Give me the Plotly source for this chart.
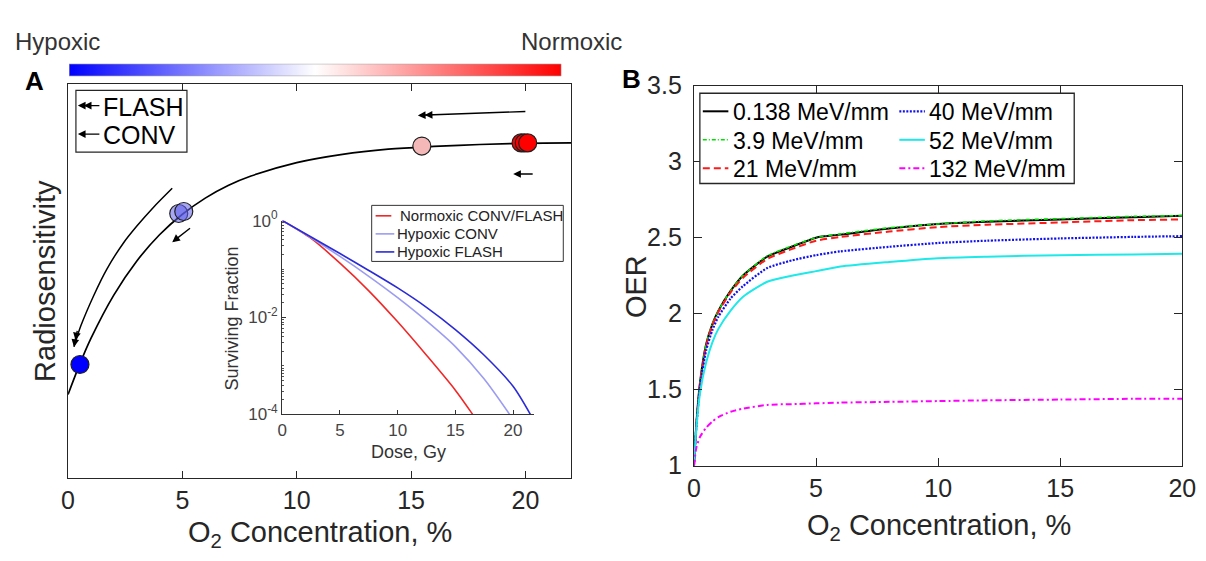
import plotly.graph_objects as go

W, H = 1206, 561
FONT = "Liberation Sans, Arial, Helvetica, sans-serif"
AX = "#262626"

# ---------------- data ----------------
# Panel A : radiosensitivity vs O2 concentration (arbitrary units)
o2_a = [0, 0.5, 1, 2, 3, 4, 5, 6, 7, 8, 10, 12, 14, 16, 18, 20, 22]
radiosens = [0.212, 0.287, 0.354, 0.464, 0.550, 0.617, 0.669, 0.710, 0.742,
             0.766, 0.800, 0.821, 0.834, 0.841, 0.846, 0.849, 0.850]
# FLASH oxygen-depletion path (arc left of the curve)
flash_o2 = [4.555, 3.739, 3.008, 2.407, 1.697, 1.139, 0.559, 0.258]
flash_rs = [0.735, 0.687, 0.639, 0.595, 0.530, 0.465, 0.386, 0.333]
# state markers
pt_o2 = [0.52, 4.84, 5.06, 15.47, 19.81, 19.95, 20.10]
pt_rs = [0.288, 0.671, 0.676, 0.842, 0.850, 0.850, 0.850]
pt_colors = ["#0000FF", "rgba(95,95,235,0.55)", "rgba(95,95,235,0.55)",
             "#F5B8B8", "#FF0000", "#FF0000", "#FF0000"]

# Inset : surviving fraction vs dose
dose_norm = [0, 2.5, 5, 7.5, 10, 12.5, 15, 16.5]
sf_norm = [1, 0.427, 0.132, 0.0355, 0.00813, 0.00166, 0.000316, 0.0001]
dose_hconv = [0, 2.5, 5, 7.5, 10, 12.5, 15, 17.5, 19.7]
sf_hconv = [1, 0.442, 0.182, 0.0708, 0.0257, 0.00851, 0.00251, 0.000537, 0.0001]
dose_hflash = [0, 2.5, 5, 7.5, 10, 12.5, 15, 17.5, 20, 21.5]
sf_hflash = [1, 0.457, 0.209, 0.0933, 0.0407, 0.0162, 0.00562, 0.00166, 0.00038, 0.0001]
inset_names = ["Normoxic CONV/FLASH", "Hypoxic CONV", "Hypoxic FLASH"]

# Panel B : OER vs O2 concentration
o2_b = [0, 0.1, 0.25, 0.5, 0.75, 1, 1.5, 2, 3, 4, 5, 6, 8, 10, 12, 15, 18, 20]
oer_0138 = [1.0, 1.28, 1.55, 1.80, 1.93, 2.02, 2.15, 2.25, 2.375, 2.44, 2.50, 2.52,
            2.56, 2.59, 2.605, 2.62, 2.635, 2.645]
oer_39 = [1.0, 1.28, 1.55, 1.80, 1.93, 2.02, 2.15, 2.25, 2.38, 2.445, 2.50, 2.525,
          2.565, 2.59, 2.61, 2.625, 2.64, 2.645]
oer_21 = [1.0, 1.27, 1.54, 1.79, 1.92, 2.01, 2.14, 2.235, 2.36, 2.425, 2.48, 2.505,
          2.54, 2.57, 2.585, 2.60, 2.615, 2.62]
oer_40 = [1.0, 1.26, 1.52, 1.76, 1.89, 1.98, 2.10, 2.18, 2.30, 2.35, 2.385, 2.41,
          2.44, 2.465, 2.48, 2.495, 2.505, 2.51]
oer_52 = [1.0, 1.25, 1.48, 1.68, 1.81, 1.90, 2.02, 2.11, 2.21, 2.25, 2.28, 2.31,
          2.34, 2.365, 2.375, 2.385, 2.39, 2.395]
oer_132 = [1.0, 1.12, 1.19, 1.25, 1.29, 1.32, 1.355, 1.375, 1.40, 1.405, 1.41, 1.415,
           1.42, 1.425, 1.43, 1.435, 1.44, 1.44]
let_labels = ["0.138 MeV/mm", "3.9 MeV/mm", "21 MeV/mm",
              "40 MeV/mm", "52 MeV/mm", "132 MeV/mm"]

# colour bar (hypoxic -> normoxic)
grad_pos = [0, 0.5, 1]
grad_col = ["#0000FF", "#FFFFFF", "#FF0000"]

x_ticks = [0, 5, 10, 15, 20]
b_yticks = [1, 1.5, 2, 2.5, 3, 3.5]
b_yticktext = ["1", "1.5", "2", "2.5", "3", "3.5"]
inset_yticks = [1e-4, 1e-2, 1]
inset_yticktext = ["10<sup>-4</sup>", "10<sup>-2</sup>", "10<sup>0</sup>"]


def fx(p):
    return p / W


def fy(p):
    return 1 - p / H


fig = go.Figure()

# ---------- panel A ----------
fig.add_trace(go.Scatter(x=o2_a, y=radiosens, mode="lines",
                         line=dict(color="black", width=1.7, shape="spline"),
                         xaxis="x", yaxis="y", showlegend=False, hoverinfo="skip"))
fig.add_trace(go.Scatter(x=flash_o2, y=flash_rs, mode="lines",
                         line=dict(color="black", width=1.5, shape="spline", smoothing=0.8),
                         xaxis="x", yaxis="y", showlegend=False, hoverinfo="skip"))
fig.add_trace(go.Scatter(x=pt_o2, y=pt_rs, mode="markers",
                         marker=dict(size=18, color=pt_colors,
                                     line=dict(color="#202020", width=1.2)),
                         xaxis="x", yaxis="y", showlegend=False, hoverinfo="skip"))

# ---------- inset ----------
inset_data = [(dose_norm, sf_norm, "#F02828", 1.6),
              (dose_hconv, sf_hconv, "#9C9CF2", 1.6),
              (dose_hflash, sf_hflash, "#2B2BD8", 1.6)]
for (dx, sy, col, lw), nm in zip(inset_data, inset_names):
    fig.add_trace(go.Scatter(x=dx, y=sy, mode="lines", name=nm,
                             line=dict(color=col, width=lw, shape="spline", smoothing=0.8),
                             xaxis="x3", yaxis="y3", showlegend=False,
                             hoverinfo="skip"))

# ---------- panel B ----------
b_styles = [("#000000", "solid", 2.0),
            ("#00E000", "4px,2px,1px,2px", 1.6),
            ("#FF1A1A", "7px,4px", 2.0),
            ("#1010F0", "2px,1.5px", 2.2),
            ("#1EE8E8", "solid", 2.0),
            ("#FF00FF", "6px,3px,2px,3px", 2.0)]
b_series = [oer_0138, oer_39, oer_21, oer_40, oer_52, oer_132]
for ys, (col, dash, lw), nm in zip(b_series, b_styles, let_labels):
    fig.add_trace(go.Scatter(x=o2_b, y=ys, mode="lines", name=nm,
                             line=dict(color=col, width=lw, dash=dash, shape="spline",
                                       smoothing=0.6),
                             xaxis="x2", yaxis="y2", showlegend=False,
                             hoverinfo="skip"))

# ---------- colour bar ----------
fig.add_trace(go.Scatter(x=[0, 1, 1, 0, 0], y=[0, 0, 1, 1, 0], mode="lines",
                         fill="toself",
                         fillgradient=dict(type="horizontal",
                                           colorscale=[[p, c] for p, c in zip(grad_pos, grad_col)]),
                         line=dict(color="#A0A0A0", width=1),
                         xaxis="x4", yaxis="y4", showlegend=False, hoverinfo="skip"))

axis_common = dict(showgrid=False, zeroline=False, showline=True, linecolor=AX,
                   linewidth=1.3, tickcolor=AX, tickwidth=1.2,
                   tickfont=dict(family=FONT, size=25, color=AX))

fig.update_layout(
    width=W, height=H, autosize=False,
    margin=dict(l=0, r=0, t=0, b=0),
    paper_bgcolor="white", plot_bgcolor="white",
    font=dict(family=FONT, color=AX),
    xaxis=dict(domain=[fx(54), fx(566)], range=[0, 22], anchor="y",
               tickvals=x_ticks, ticks="inside", ticklen=7, mirror="ticks",
               **axis_common),
    yaxis=dict(domain=[fy(480), fy(65)], range=[0, 1], anchor="x",
               showticklabels=False, ticks="", mirror=True,
               **{k: v for k, v in axis_common.items() if k != "tickfont"}),
    xaxis2=dict(domain=[fx(691), fx(1188)], range=[0, 20], anchor="y2",
                tickvals=x_ticks, ticks="inside", ticklen=8, mirror="ticks",
                **axis_common),
    yaxis2=dict(domain=[fy(467), fy(67)], range=[1, 3.5], anchor="x2",
                tickvals=b_yticks, ticktext=b_yticktext, ticks="inside",
                ticklen=8, mirror="ticks", ticklabelstandoff=6, **axis_common),
    xaxis3=dict(domain=[fx(272), fx(528)], range=[0, 21.8], anchor="y3",
                tickvals=x_ticks, ticks="inside", ticklen=4, showgrid=False,
                zeroline=False, showline=True, linecolor="#333333", linewidth=1.3,
                tickcolor="#333333", tickfont=dict(family=FONT, size=17, color="#444444")),
    yaxis3=dict(domain=[fy(413), fy(209)], type="log", range=[-4, 0], anchor="x3",
                tickvals=inset_yticks, ticktext=inset_yticktext, ticks="inside",
                ticklen=4, showgrid=False, zeroline=False, showline=True,
                linecolor="#333333", linewidth=1.3, tickcolor="#333333",
                minor=dict(ticks="inside", ticklen=2, dtick="D1", tickcolor="#555555",
                           showgrid=False),
                tickfont=dict(family=FONT, size=17, color="#444444")),
    xaxis4=dict(domain=[fx(55), fx(556)], range=[0, 1], anchor="y4", visible=False,
                fixedrange=True),
    yaxis4=dict(domain=[fy(57), fy(44)], range=[0, 1], anchor="x4", visible=False,
                fixedrange=True),
)

ann = []
shapes = []


def text(x, y, s, size, xanchor="center", angle=0, bold=False, color=AX):
    ann.append(dict(x=fx(x), y=fy(y), xref="paper", yref="paper", text=s,
                    showarrow=False, xanchor=xanchor, yanchor="middle",
                    textangle=angle,
                    font=dict(family=FONT, size=size, color=color,
                              weight="bold" if bold else "normal")))


def arrow(tip, tail, width=1.4, size=1.1):
    ann.append(dict(x=fx(tip[0]), y=fy(tip[1]), xref="paper", yref="paper",
                    ax=tail[0] - tip[0], ay=tail[1] - tip[1],
                    axref="pixel", ayref="pixel", text="", showarrow=True,
                    arrowhead=2, arrowsize=size, arrowwidth=width,
                    arrowcolor="black", standoff=0))


# header texts
text(43, 21, "Hypoxic", 24, color="#333333")
text(566, 21, "Normoxic", 24, color="#333333")
text(20, 62, "A", 26, bold=True, color="black")
text(627, 60, "B", 26, bold=True, color="black")

# axis titles
text(31, 272, "Radiosensitivity", 29, angle=-90)
text(310, 539, "O<sub>2</sub> Concentration, %", 29)
text(632, 278, "OER", 29, angle=-90)
text(940, 532, "O<sub>2</sub> Concentration, %", 29)
text(221, 312, "Surviving Fraction", 18, angle=-90, color="#333333")
text(400, 453, "Dose, Gy", 18, color="#333333")

# panel A arrows
arrow((60, 342), (62.0, 331.0))
arrow((61.6, 335), (63.6, 324.0))
arrow((160, 231.7), (179.3, 216.7))
arrow((410, 98.3), (519, 94.3))
arrow((417, 98.0), (426, 97.7))
arrow((507, 160), (528, 160))

# panel A legend
shapes.append(dict(type="rect", xref="paper", yref="paper",
                   x0=fx(62), x1=fx(175), y0=fy(137), y1=fy(72),
                   line=dict(color=AX, width=1.2), fillcolor="white", layer="above"))
arrow((64, 88), (87, 88))
arrow((70, 88), (76, 88))
arrow((64, 118), (87, 118))
text(88, 89, "FLASH", 25, xanchor="left", color="black")
text(88, 119, "CONV", 25, xanchor="left", color="black")

# inset legend
shapes.append(dict(type="rect", xref="paper", yref="paper",
                   x0=fx(363), x1=fx(558), y0=fy(252), y1=fy(193),
                   line=dict(color="#333333", width=1), fillcolor="white", layer="above"))
inset_leg = [(204, 367, 383, 390), (223, 367, 386, 387), (242, 367, 386, 387)]
for (yy, l0, l1, tx), (dx, sy, col, lw), nm in zip(inset_leg, inset_data, inset_names):
    shapes.append(dict(type="line", xref="paper", yref="paper",
                       x0=fx(l0), x1=fx(l1), y0=fy(yy), y1=fy(yy),
                       line=dict(color=col, width=lw)))
    text(tx, yy, nm, 15, xanchor="left", color="#222222")

# panel B legend
shapes.append(dict(type="rect", xref="paper", yref="paper",
                   x0=fx(697), x1=fx(1078), y0=fy(170), y1=fy(75),
                   line=dict(color=AX, width=1.3), fillcolor="white", layer="above"))
b_leg = [(94, 700, 726, 729), (124, 700, 726, 729), (154, 700, 726, 729),
         (94, 900, 926, 928), (124, 900, 926, 928), (154, 900, 926, 928)]
for (yy, l0, l1, tx), (col, dash, lw), nm in zip(b_leg, b_styles, let_labels):
    shapes.append(dict(type="line", xref="paper", yref="paper",
                       x0=fx(l0), x1=fx(l1), y0=fy(yy), y1=fy(yy),
                       line=dict(color=col, width=lw, dash=dash)))
    text(tx, yy + 1, nm, 23, xanchor="left", color="black")

fig.update_layout(annotations=ann, shapes=shapes)
fig.write_html("out.html")
